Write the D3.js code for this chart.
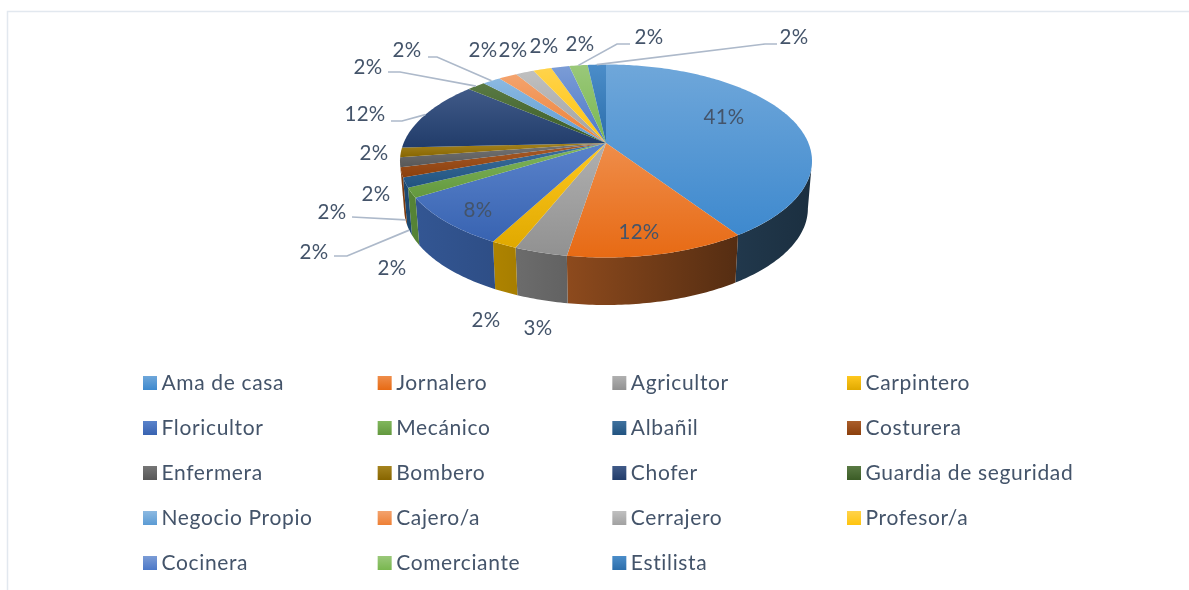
<!DOCTYPE html>
<html>
<head>
<meta charset="utf-8">
<script src="https://cdn.jsdelivr.net/npm/d3@7"></script>
<style>
  html, body { margin: 0; padding: 0; background: #fff; }
  svg { display: block; filter: blur(0.4px); }
  text { font-family: Lato, "Open Sans", sans-serif; fill: #44546a; }
</style>
</head>
<body>
<svg id="chart" width="1189" height="590"></svg>
<script>
// occupations, clockwise from 12 o'clock
const categories = ["Ama de casa", "Jornalero", "Agricultor", "Carpintero", "Floricultor", "Mecánico", "Albañil", "Costurera", "Enfermera", "Bombero", "Chofer", "Guardia de seguridad", "Negocio Propio", "Cajero/a", "Cerrajero", "Profesor/a", "Cocinera", "Comerciante", "Estilista"];
const values = [40.7, 11.8, 3.5, 1.7, 8.4, 1.62, 1.62, 1.62, 1.62, 1.62, 12, 1.72, 1.72, 1.72, 1.72, 1.72, 1.72, 1.72, 1.72];
const labels = ["41%", "12%", "3%", "2%", "8%", "2%", "2%", "2%", "2%", "2%", "12%", "2%", "2%", "2%", "2%", "2%", "2%", "2%", "2%"];
const colors = ["#5b9bd5", "#ed7d31", "#a5a5a5", "#ffc000", "#4472c4", "#70ad47", "#255e91", "#9e480e", "#636363", "#997300", "#264478", "#43682b", "#7cafdd", "#f1975a", "#b7b7b7", "#ffcd33", "#698ed0", "#8cc168", "#327dc2"];

// where excel left each data label (centre of text), same order as categories
const labelX = [724, 639, 538, 486, 478, 392, 314, 332, 376, 374, 365, 368, 407, 483, 513, 544, 580, 649, 794];
const labelY = [117, 232, 328, 320, 210, 268, 252, 212, 194, 153, 114, 67, 50, 50, 50, 46, 44, 37, 37];
// leader lines, only for the labels that have one: index, elbow x, end x, y
const leaderIdx = [6, 7, 10, 11, 12, 17, 18];
const leaderElbowX = [347, 352, 402, 400, 437, 617, 765];
const leaderEndX = [334, 352, 391, 388, 428, 630, 777];
const leaderY = [256, 217, 121, 72, 57, 44, 44];
const leaderOnWall = [true, true, false, false, false, false, false];

const svg = d3.select("#chart");
const defs = svg.append("defs");

// frame of the pasted picture
svg.append("path")
    .attr("d", "M7.5,590V11.5H1189")
    .attr("fill", "none")
    .attr("stroke", "#e2e8ef")
    .attr("stroke-width", 1.5);

// pie geometry: rim is an ellipse, apex sits above its centre (perspective)
const cx = 606, cy = 161, rx = 206, ry = 96.5, depth = 47.5, shrink = 0.98;
const k = (143 - cy) / ry;

function rim(theta) {
    const u = Math.sin(theta), v = -Math.cos(theta);
    return [u * Math.sqrt(1 - k * k) / (1 + k * v), (v + k) / (1 + k * v)];
}
function topPoint(theta) {
    const p = rim(theta);
    return [cx + rx * p[0], cy + ry * p[1]];
}
function bottomPoint(theta) {
    const p = rim(theta);
    return [cx + rx * shrink * p[0], cy + depth + ry * p[1]];
}
function sample(a0, a1) {
    const n = Math.max(2, Math.ceil(Math.abs(a1 - a0) / 0.015));
    return d3.range(n + 1).map(function(i) { return a0 + (a1 - a0) * i / n; });
}

const pie = d3.pie().sort(null);
const slices = pie(values);
const line = d3.line();

// side wall gets lighter going from right to left
const rad = Math.PI / 180;
const wallStart = Math.acos(k), wallEnd = 2 * Math.PI - Math.acos(k);
const shade = d3.scaleLinear()
    .domain([100 * rad, 148 * rad, 190 * rad, 207 * rad, 260 * rad])
    .range([0.3, 0.36, 0.6, 0.68, 0.8]);
function scaled(c, f) {
    const r = d3.rgb(c);
    return d3.rgb(r.r * f, r.g * f, r.b * f).formatHex();
}
function deepen(c) {
    const h = d3.hsl(c);
    h.l = h.l * 0.88;
    return h.formatHex();
}

// top face gradients, also used by the legend
colors.forEach(function(c, i) {
    const g = defs.append("linearGradient").attr("id", "top" + i)
        .attr("x1", 0).attr("x2", 0).attr("y1", 0).attr("y2", 1);
    g.append("stop").attr("offset", "0%").attr("stop-color", d3.interpolateRgb(c, "#fff")(0.12));
    g.append("stop").attr("offset", "100%").attr("stop-color", deepen(c));
});

const pieG = svg.append("g");

// walls first
slices.forEach(function(d, i) {
    const a0 = Math.max(d.startAngle, wallStart), a1 = Math.min(d.endAngle, wallEnd);
    if (a1 <= a0) return;
    const g = defs.append("linearGradient").attr("id", "wall" + i);
    g.append("stop").attr("offset", "0%").attr("stop-color", scaled(colors[i], shade(a1)));
    g.append("stop").attr("offset", "100%").attr("stop-color", scaled(colors[i], shade(a0)));
    const angles = sample(a0, a1);
    const pts = angles.map(topPoint).concat(angles.slice().reverse().map(bottomPoint));
    pieG.append("path")
        .attr("d", line(pts) + "Z")
        .attr("fill", "url(#wall" + i + ")");
});

// top faces
pieG.selectAll("path.slice")
    .data(slices)
    .enter()
    .append("path")
    .attr("class", "slice")
    .attr("d", function(d) {
        return line([[cx, 143]].concat(sample(d.startAngle, d.endAngle).map(topPoint))) + "Z";
    })
    .attr("fill", function(d, i) { return "url(#top" + i + ")"; });

// leader lines run from the middle of the slice's rim to the label
leaderIdx.forEach(function(idx, j) {
    const d = slices[idx];
    const mid = (d.startAngle + d.endAngle) / 2;
    const p = leaderOnWall[j] ? bottomPoint(mid) : topPoint(mid);
    svg.append("path")
        .attr("d", line([p, [leaderElbowX[j], leaderY[j]], [leaderEndX[j], leaderY[j]]]))
        .attr("fill", "none")
        .attr("stroke", "#adb9ca")
        .attr("stroke-width", 1.7);
});

// data labels
svg.selectAll("text.datalabel")
    .data(labels)
    .enter()
    .append("text")
    .attr("class", "datalabel")
    .attr("x", function(d, i) { return labelX[i]; })
    .attr("y", function(d, i) { return labelY[i]; })
    .attr("dy", "0.35em")
    .attr("text-anchor", "middle")
    .style("font-size", "20.5px")
    .style("letter-spacing", "0.3px")
    .text(function(d) { return d; });

// legend: 4 columns, 5 rows
const legendCol = d3.scalePoint().domain(d3.range(4)).range([143, 847]);
const legendRow = d3.scalePoint().domain(d3.range(5)).range([383, 563]);
const legend = svg.selectAll("g.legend")
    .data(categories)
    .enter()
    .append("g")
    .attr("class", "legend")
    .attr("transform", function(d, i) {
        return "translate(" + legendCol(i % 4) + "," + legendRow(Math.floor(i / 4)) + ")";
    });
legend.append("rect")
    .attr("y", -7)
    .attr("width", 14)
    .attr("height", 14)
    .attr("fill", function(d, i) { return "url(#top" + i + ")"; });
legend.append("text")
    .attr("x", 18.5)
    .attr("dy", "0.35em")
    .style("font-size", "21px")
    .style("letter-spacing", "0.65px")
    .text(function(d) { return d; });
</script>
</body>
</html>
